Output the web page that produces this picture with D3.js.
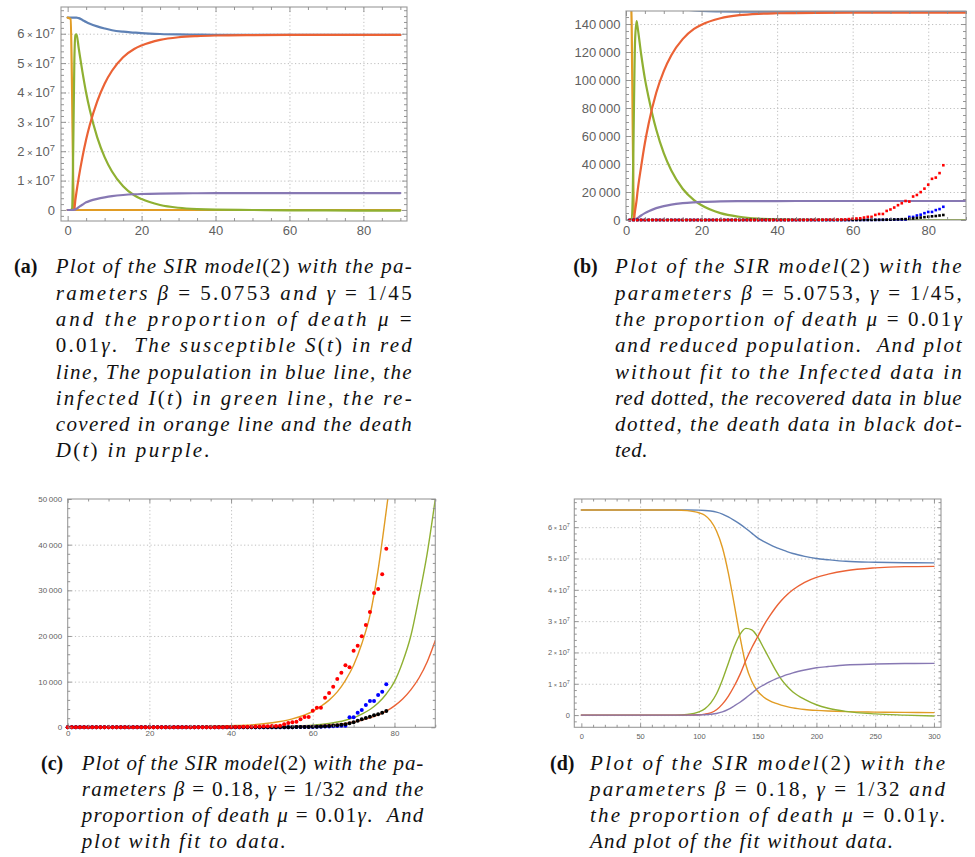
<!DOCTYPE html>
<html><head><meta charset="utf-8">
<script src="https://cdn.jsdelivr.net/npm/d3@7"></script>
<style>
body{margin:0;background:#fff;}
svg{display:block;}
.cap{white-space:pre;font-family:"Liberation Serif","DejaVu Serif",serif;fill:#111;}
</style></head><body>
<svg id="fig" width="975" height="857"></svg>
<script>
// ================= DATA =================
// Panel (a): time grid (days) and values in units of 1e7
const tA = [0,0.8,1.2,1.5,1.8,2.1,2.4,3,4,5,6,8,10,12,15,18,20,25,30,35,40,50,60,70,80,90];
const popA = [6.55,6.55,6.55,6.55,6.55,6.55,6.55,6.53,6.47,6.40,6.34,6.25,6.18,6.12,6.07,6.04,6.02,5.99,5.975,5.97,5.965,5.96,5.96,5.96,5.96,5.96];
const recA = [6.55,6.50,4.0,1.0,0.05,0,0,0,0,0,0,0,0,0,0,0,0,0,0,0,0,0,0,0,0,0];
const infA = [0,0,0.05,2.0,5.0,5.95,5.98,5.5,4.7,3.99,3.4,2.47,1.8,1.31,0.81,0.5,0.37,0.17,0.075,0.03,0.01,0,-0.01,-0.015,-0.02,-0.02];
const susA = [0,0,0,0,0.05,0.35,0.62,1.1,1.8,2.4,2.9,3.7,4.3,4.74,5.2,5.48,5.6,5.79,5.88,5.92,5.94,5.955,5.96,5.96,5.96,5.96];
const deaA = [0,0,0,0.005,0.01,0.02,0.04,0.1,0.18,0.26,0.31,0.38,0.43,0.47,0.51,0.535,0.545,0.56,0.567,0.57,0.572,0.575,0.575,0.575,0.575,0.575];

// Panel (b): reduced population
const tB = [0,1.2,1.5,1.8,2.1,2.4,2.8,3,4,5,6,8,10,12,15,18,20,25,30,35,40,50,60,70,80,90];
const popB = [162000,162000,162000,161900,161800,161500,161000,160500,158800,157500,156200,154300,152800,151600,150600,149700,149350,149000,148850,148800,148780,148760,148750,148750,148750,148750];
const recB = [162000,161000,140000,60000,5000,0,0,0,0,0,0,0,0,0,0,0,0,0,0,0,0,0,0,0,0,0];
const infB = [0,0,0,20000,80000,128000,142000,139000,118600,101000,87400,64600,47700,35300,22300,14200,10500,4900,2300,1000,400,50,0,0,0,0];
const susB = [0,0,0,0,1500,6500,14000,19000,38000,55000,69000,90900,106400,117700,129200,136500,139500,144100,146300,147300,147700,148000,148050,148050,148050,148050];
const deaB = [0,0,0,0,100,400,900,1200,3200,4900,6300,8500,9900,11000,12000,12600,12900,13300,13450,13520,13550,13570,13570,13570,13570,13570];

// Observed data, days 1..84 (plot b); plot (c) shows the same data shifted by 6 days
const dataDays = d3.range(1, 85);
const cShift = 6;
const infectedData = [0,0,0,0,0,0,0,0,0,0,0,0,0,0,0,0,0,0,0,0,0,0,0,0,0,0,0,0,0,0,0,0,0,0,0,
  1,2,3,5,8,12,18,25,35,45,
  55,70,85,100,120,140,160,185,210,240,270,310,
  360,650,940,1090,1230,1750,2255,2255,3640,4300,4300,6480,7510,8900,10580,11960,13580,13140,16780,17880,19930,22400,25250,29410,30290,33500,39120];
const recoveredData = [0,0,0,0,0,0,0,0,0,0,0,0,0,0,0,0,0,0,0,0,0,0,0,0,0,0,0,0,0,0,0,0,0,0,0,0,0,0,0,0,0,0,0,0,0,0,0,0,0,0,0,0,0,0,0,0,
  0,0,10,20,30,40,50,60,70,80,
  100,130,160,200,250,300,330,350,
  2190,2190,3200,3790,4880,5760,5760,7070,7800,9420];
const deathData = [0,0,0,0,0,0,0,0,0,0,0,0,0,0,0,0,0,0,0,0,0,0,0,0,0,0,0,0,0,0,0,0,0,0,0,0,0,0,0,0,0,0,0,0,0,0,0,0,0,0,0,0,0,0,0,0,
  5,10,15,20,30,40,50,60,80,
  100,130,180,220,290,370,440,580,650,875,1100,1460,1750,2050,2330,2630,2850,3210,3580];

// Panel (c): fitted curves
const tC = [0,10,20,30,40,45,50,55,60,62,64,66,68,70,72,74,76,78,80,82,84,86,88,90];
const fitInfC = [15,30,60,140,350,540,1000,1850,3500,4600,5950,7750,10300,13600,18300,24500,34500,47500,62000,82000,107000,140000,185000,245000];
const fitRecC = [0,0,5,15,30,55,110,220,460,620,850,1150,1550,2100,2900,3900,5300,7300,10000,14300,20000,28500,38000,50000];
const fitDeaC = [0,0,2,6,15,35,70,140,280,370,490,650,870,1150,1550,2050,2700,3550,4700,6200,8200,10800,14300,19000];

// Panel (d): fit without data, values in units of 1e7
const tD = [0,50,80,90,100,105,110,115,120,125,130,135,140,145,150,155,160,165,170,175,180,190,200,210,225,250,275,300];
const popD = [6.55,6.55,6.55,6.55,6.545,6.535,6.515,6.48,6.42,6.33,6.22,6.1,5.96,5.81,5.66,5.55,5.45,5.36,5.29,5.22,5.16,5.07,5.0,4.96,4.91,4.88,4.865,4.86];
const susD = [6.55,6.55,6.55,6.53,6.46,6.38,6.2,5.88,5.35,4.55,3.55,2.5,1.6,1.08,0.76,0.58,0.46,0.38,0.32,0.27,0.23,0.18,0.15,0.13,0.11,0.095,0.085,0.08];
const infD = [0,0,0,0.02,0.1,0.2,0.38,0.68,1.12,1.65,2.18,2.58,2.77,2.72,2.5,2.15,1.8,1.45,1.15,0.92,0.74,0.5,0.33,0.22,0.12,0.04,0,-0.03];
const recD = [0,0,0,0,0.01,0.03,0.07,0.17,0.35,0.6,0.92,1.3,1.75,2.15,2.5,2.85,3.15,3.42,3.65,3.84,4.0,4.24,4.4,4.5,4.61,4.7,4.74,4.75];
const deaD = [0,0,0,0,0.005,0.01,0.025,0.05,0.1,0.18,0.29,0.41,0.55,0.7,0.85,0.96,1.06,1.15,1.22,1.29,1.35,1.44,1.51,1.55,1.6,1.63,1.645,1.65];

// tick values
const ticksA = {xMajor:[0,20,40,60,80], yMajor:[0,1,2,3,4,5,6]};
const ticksB = {xMajor:[0,20,40,60,80], yMajor:[0,20000,40000,60000,80000,100000,120000,140000]};
const ticksC = {xMajor:[0,20,40,60,80], yMajor:[0,10000,20000,30000,40000,50000]};
const ticksD = {xMajor:[0,50,100,150,200,250,300], yMajor:[0,1,2,3,4,5,6]};

// ================= DRAWING =================
const COL = {blue:'#5E81B5', orange:'#E19C24', green:'#8FB032', red:'#EB6235', purple:'#8778B3'};
const svg = d3.select('#fig');
const defs = svg.append('defs');
const thin = d3.formatLocale({decimal:'.', thousands:'\u2009', grouping:[3], currency:['','']}).format(',');

function sciLabels(sel){
  sel.selectAll('.tick text').each(function(d){
    if (d === 0) return;
    const t = d3.select(this); t.text(null);
    t.append('tspan').text(d + '\u2009');
    t.append('tspan').attr('font-size','0.75em').text('\u00d7');
    t.append('tspan').text('\u200910');
    t.append('tspan').attr('dy','-0.5em').attr('font-size','0.72em').text('7');
  });
}

function drawPanel(o){
  const g = svg.append('g');
  const x = d3.scaleLinear().domain(o.xDomain).range([o.left,o.right]);
  const y = d3.scaleLinear().domain(o.yDomain).range([o.bottom,o.top]);
  const W = o.right-o.left, H = o.bottom-o.top;
  const cid = 'clip'+o.id;
  defs.append('clipPath').attr('id',cid).append('rect').attr('x',o.left).attr('y',o.top).attr('width',W).attr('height',H);

  const gridStyle = s => { s.select('.domain').remove(); s.selectAll('line').attr('stroke','#b8b8b8').attr('stroke-width',0.9).attr('stroke-dasharray','1.2,2.4'); };
  g.append('g').attr('transform',`translate(0,${o.bottom})`)
    .call(d3.axisBottom(x).tickValues(o.xGrid).tickSize(-H).tickFormat('')).call(gridStyle);
  g.append('g').attr('transform',`translate(${o.left},0)`)
    .call(d3.axisLeft(y).tickValues(o.yGrid).tickSize(-W).tickFormat('')).call(gridStyle);

  const plot = g.append('g').attr('clip-path',`url(#${cid})`);
  const line = d3.line().x(d=>x(d[0])).y(d=>y(d[1])).curve(d3.curveMonotoneX);
  o.series.forEach(s=>{
    plot.append('path').datum(d3.zip(s.t,s.v)).attr('d',line)
      .attr('fill','none').attr('stroke',s.color).attr('stroke-width',o.lw)
      .attr('stroke-linejoin','round').attr('stroke-linecap','round');
  });

  // frame
  g.append('rect').attr('x',o.left).attr('y',o.top).attr('width',W).attr('height',H)
    .attr('fill','none').attr('stroke','#9a9a9a').attr('stroke-width',1.1);

  // dots
  (o.dots||[]).forEach(s=>{
    const pts = d3.zip(s.t,s.v).filter(d=>d[0]>=o.xDomain[0] && d[0]<=o.xDomain[1]);
    if (o.square){
      g.append('g').selectAll('rect').data(pts).join('rect')
        .attr('x',d=>x(d[0])-o.dotR).attr('y',d=>y(d[1])-o.dotR)
        .attr('width',2*o.dotR).attr('height',2*o.dotR).attr('fill',s.color);
    } else {
      g.append('g').selectAll('circle').data(pts).join('circle')
        .attr('cx',d=>x(d[0])).attr('cy',d=>y(d[1])).attr('r',o.dotR).attr('fill',s.color);
    }
  });

  // ticks
  const tickStyle = s => { s.select('.domain').remove(); s.selectAll('line').attr('stroke','#8a8a8a').attr('stroke-width',0.9);
    s.selectAll('text').attr('fill','#5f5f5f').attr('font-family','"Liberation Sans", Arial, sans-serif').attr('font-size',o.fs); };
  const xMinor = o.xMinor.filter(v=>!o.xMajor.includes(v));
  const yMinor = o.yMinor.filter(v=>!o.yMajor.some(m=>Math.abs(m-v)<1e-9));
  g.append('g').attr('transform',`translate(0,${o.bottom})`)
    .call(d3.axisBottom(x).tickValues(o.xMajor).tickSizeInner(-o.maj).tickSizeOuter(0).tickPadding(o.xPad)).call(tickStyle);
  g.append('g').attr('transform',`translate(0,${o.bottom})`)
    .call(d3.axisBottom(x).tickValues(xMinor).tickSize(-o.min).tickFormat('')).call(tickStyle);
  g.append('g').attr('transform',`translate(0,${o.top})`)
    .call(d3.axisTop(x).tickValues(o.xMajor).tickSize(-o.maj).tickFormat('')).call(tickStyle);
  g.append('g').attr('transform',`translate(0,${o.top})`)
    .call(d3.axisTop(x).tickValues(xMinor).tickSize(-o.min).tickFormat('')).call(tickStyle);
  const left = g.append('g').attr('transform',`translate(${o.left},0)`)
    .call(d3.axisLeft(y).tickValues(o.yMajor).tickSizeInner(-o.maj).tickSizeOuter(0).tickPadding(o.yPad).tickFormat(o.yFmt)).call(tickStyle);
  if (o.sci) left.call(sciLabels);
  g.append('g').attr('transform',`translate(${o.left},0)`)
    .call(d3.axisLeft(y).tickValues(yMinor).tickSize(-o.min).tickFormat('')).call(tickStyle);
  g.append('g').attr('transform',`translate(${o.right},0)`)
    .call(d3.axisRight(y).tickValues(o.yMajor).tickSize(-o.maj).tickFormat('')).call(tickStyle);
  g.append('g').attr('transform',`translate(${o.right},0)`)
    .call(d3.axisRight(y).tickValues(yMinor).tickSize(-o.min).tickFormat('')).call(tickStyle);
}

// ---- (a)
drawPanel({id:'a', left:61, right:407, top:7, bottom:221,
  xDomain:[-1.8,91.8], yDomain:[-0.375,6.91],
  xMajor:ticksA.xMajor, xMinor:d3.range(0,91,5), yMajor:ticksA.yMajor, yMinor:d3.range(-0.2,6.9,0.2),
  xGrid:[20,40,60,80], yGrid:[1,2,3,4,5,6],
  maj:5, min:3, fs:13, xPad:5, yPad:6, sci:true, yFmt:d=>d===0?'0':String(d), lw:2.2,
  series:[
    {t:tA, v:popA, color:COL.blue},
    {t:tA, v:recA, color:COL.orange},
    {t:tA, v:infA, color:COL.green},
    {t:tA, v:susA, color:COL.red},
    {t:tA, v:deaA, color:COL.purple}]});

// ---- (b)
drawPanel({id:'b', left:626, right:966, top:11, bottom:220,
  xDomain:[0,90], yDomain:[0,149300],
  xMajor:ticksB.xMajor, xMinor:d3.range(0,91,5), yMajor:ticksB.yMajor, yMinor:d3.range(0,149000,5000),
  xGrid:[20,40,60,80], yGrid:[20000,40000,60000,80000,100000,120000,140000],
  maj:5, min:3, fs:13, xPad:6, yPad:5.5, sci:false, yFmt:d=>thin(d), lw:2.2,
  series:[
    {t:tB, v:popB, color:COL.blue},
    {t:tB, v:recB, color:COL.orange},
    {t:tB, v:infB, color:COL.green},
    {t:tB, v:susB, color:COL.red},
    {t:tB, v:deaB, color:COL.purple}],
  square:true, dotR:1.3,
  dots:[
    {t:dataDays, v:recoveredData, color:'#0000ff'},
    {t:dataDays, v:deathData, color:'#000000'},
    {t:dataDays, v:infectedData, color:'#ff0000'}]});

// ---- (c)
const daysC = dataDays.map(d=>d-cShift);
drawPanel({id:'c', left:67.7, right:435.3, top:499, bottom:727.3,
  xDomain:[0,90], yDomain:[0,50000],
  xMajor:ticksC.xMajor, xMinor:d3.range(0,91,5), yMajor:ticksC.yMajor, yMinor:d3.range(0,50001,2000),
  xGrid:[20,40,60,80], yGrid:[10000,20000,30000,40000],
  maj:4, min:2.5, fs:8, xPad:3, yPad:5.5, sci:false, yFmt:d=>thin(d), lw:1.4,
  series:[
    {t:tC, v:fitInfC, color:COL.orange},
    {t:tC, v:fitRecC, color:COL.green},
    {t:tC, v:fitDeaC, color:COL.red}],
  square:false, dotR:2,
  dots:[
    {t:daysC, v:recoveredData, color:'#0000ff'},
    {t:daysC, v:deathData, color:'#000000'},
    {t:daysC, v:infectedData, color:'#ff0000'}]});

// ---- (d)
drawPanel({id:'d', left:574.3, right:941, top:499, bottom:727.3,
  xDomain:[-6,306], yDomain:[-0.39,6.9],
  xMajor:ticksD.xMajor, xMinor:d3.range(0,301,10), yMajor:ticksD.yMajor, yMinor:d3.range(-0.2,6.9,0.2),
  xGrid:[50,100,150,200,250,300], yGrid:[0,1,2,3,4,5,6],
  maj:4, min:2.5, fs:7.5, xPad:6.5, yPad:4.5, sci:true, yFmt:d=>d===0?'0':String(d), lw:1.4,
  series:[
    {t:tD, v:popD, color:COL.blue},
    {t:tD, v:susD, color:COL.orange},
    {t:tD, v:infD, color:COL.green},
    {t:tD, v:recD, color:COL.red},
    {t:tD, v:deaD, color:COL.purple}]});

// ================= CAPTIONS =================
const capA = [
  [["Plot of the SIR model","i"],["(2)","r"],[" with the pa-","i"]],
  [["rameters ","i"],["β","i"],[" = 5.0753 ","r"],["and ","i"],["γ","i"],[" = 1/45","r"]],
  [["and the proportion of death ","i"],["μ","i"],[" =","r"]],
  [["0.01","r"],["γ","i"],[".","r"],["  The susceptible ","i"],["S","i"],["(","r"],["t","i"],[")","r"],[" in red","i"]],
  [["line, The population in blue line, the","i"]],
  [["infected ","i"],["I","i"],["(","r"],["t","i"],[")","r"],[" in green line, the re-","i"]],
  [["covered in orange line and the death","i"]],
  [["D","i"],["(","r"],["t","i"],[")","r"],[" in purple.","i"]]];
const capB = [
  [["Plot of the SIR model","i"],["(2)","r"],[" with the","i"]],
  [["parameters ","i"],["β","i"],[" = 5.0753, ","r"],["γ","i"],[" = 1/45,","r"]],
  [["the proportion of death ","i"],["μ","i"],[" = 0.01","r"],["γ","i"]],
  [["and reduced population.  And plot","i"]],
  [["without fit to the Infected data in","i"]],
  [["red dotted, the recovered data in blue","i"]],
  [["dotted, the death data in black dot-","i"]],
  [["ted.","i"]]];
const capC = [
  [["Plot of the SIR model","i"],["(2)","r"],[" with the pa-","i"]],
  [["rameters ","i"],["β","i"],[" = 0.18, ","r"],["γ","i"],[" = 1/32 ","r"],["and the","i"]],
  [["proportion of death ","i"],["μ","i"],[" = 0.01","r"],["γ","i"],[".","r"],["  And","i"]],
  [["plot with fit to data.","i"]]];
const capD = [
  [["Plot of the SIR model","i"],["(2)","r"],[" with the","i"]],
  [["parameters ","i"],["β","i"],[" = 0.18, ","r"],["γ","i"],[" = 1/32 ","r"],["and","i"]],
  [["the proportion of death ","i"],["μ","i"],[" = 0.01","r"],["γ","i"],[".","r"]],
  [["And plot of the fit without data.","i"]]];

function drawCaption(label, lx, tx, y0, widths, lines){
  const fs = 21, lh = 26.3;
  svg.append('text').attr('class','cap').attr('x',lx).attr('y',y0)
    .attr('font-size',20).attr('font-weight','bold').text(label);
  lines.forEach((segs,i)=>{
    const t = svg.append('text').attr('class','cap').attr('x',tx).attr('y',y0+i*lh).attr('font-size',fs)
      .attr('textLength',widths[i]).attr('lengthAdjust','spacing');
    segs.forEach(([s,st])=>{
      t.append('tspan').attr('font-style',st==='i'?'italic':'normal').text(s);
    });
  });
}
drawCaption('(a)', 14, 55.7, 273.3, [356,356,356,356,356,356,356,154], capA);
drawCaption('(b)', 573.3, 615, 273.3, [346.7,346.7,346.7,346.7,346.7,346.7,346.7,32.5], capB);
drawCaption('(c)', 41, 81.7, 769.5, [341.6,341.6,341.6,204], capC);
drawCaption('(d)', 550, 590, 769.5, [355,355,355,303], capD);
</script>
</body></html>
